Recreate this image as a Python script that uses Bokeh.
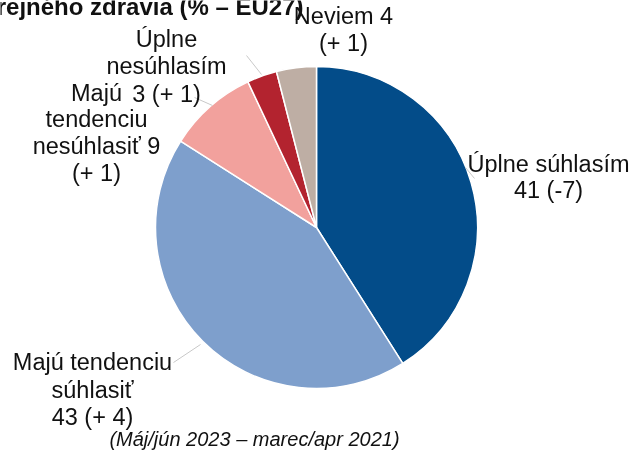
import numpy as np
from bokeh.plotting import figure
from bokeh.models import Range1d, ColumnDataSource
from bokeh.core.properties import value
from bokeh.embed import file_html
from bokeh.resources import INLINE

# ---- data ----
categories = ["Úplne súhlasím", "Majú tendenciu súhlasiť", "Majú tendenciu nesúhlasiť",
              "Úplne nesúhlasím", "Neviem"]
shares = [41, 43, 9, 3, 4]
changes = ["-7", "+ 4", "+ 1", "+ 1", "+ 1"]
colors = ["#034C89", "#7E9FCC", "#F2A19D", "#B3232F", "#BEAEA4"]

title_text = "verejného zdravia (% – EU27)"
footnote = "(Máj/jún 2023 – marec/apr 2021)"

label_lines = [
    ["Úplne súhlasím", "41 (-7)"],
    ["Majú tendenciu", "súhlasiť", "43 (+ 4)"],
    ["Majú", "tendenciu", "nesúhlasiť 9", "(+ 1)"],
    ["Úplne", "nesúhlasím", "3 (+ 1)"],
    ["Neviem 4", "(+ 1)"],
]

# ---- layout (window pixel coordinates) ----
W, H = 634, 452
CX, CY, R = 316, 227, 161
SHIFT = -7  # text baseline correction
label_pos = [  # (center x, [baselines])
    (548, [170, 196]),
    (92, [368, 396, 423]),
    (96, [99, 125, 152, 179]),
    (166, [45, 72, 100]),
    (343, [22, 49]),
]
leaders = [
    ((465, 167), (474, 178)),
    ((173, 362), (200, 344)),
    ((194, 97), (212, 105)),
    ((246, 55), (261, 74)),
]

def Y(y):
    return H - y

p = figure(width=W, height=H, x_range=Range1d(0, W), y_range=Range1d(0, H),
           output_backend="svg", toolbar_location=None, min_border=0,
           styles={"position": "fixed", "top": "0px", "left": "0px"})
p.axis.visible = False
p.grid.visible = False
p.outline_line_color = None
p.background_fill_color = "white"
p.border_fill_color = "white"

vals = np.array(shares, dtype=float)
cum = np.cumsum(vals)
total = cum[-1]
start = np.pi / 2 - 2 * np.pi * (cum - vals) / total
end = np.pi / 2 - 2 * np.pi * cum / total
src = ColumnDataSource(dict(start=start, end=end, color=colors, cat=categories))
p.wedge(x=CX, y=Y(CY), radius=R, start_angle="start", end_angle="end",
        direction="clock", fill_color="color", line_color="white", line_width=1.5,
        source=src)

for (a, b) in leaders:
    p.line([a[0], b[0]], [Y(a[1]), Y(b[1])], line_color="#C9C9C9", line_width=1)

xs, ys, ts = [], [], []
for (cx, bls), lines in zip(label_pos, label_lines):
    for bl, t in zip(bls, lines):
        xs.append(cx); ys.append(Y(bl + SHIFT)); ts.append(t)
p.text(x=xs, y=ys, text=ts, text_font=value("Liberation Sans"),
       text_font_size="23.5px", text_align="center", text_baseline="alphabetic",
       text_color="#111111")

p.text(x=[303], y=[Y(13 + SHIFT)], text=[title_text], text_font=value("Liberation Sans"),
       text_font_size="24px", text_font_style="bold", text_align="right",
       text_baseline="alphabetic", text_color="#111111")

p.text(x=[254], y=[Y(445 + SHIFT)], text=[footnote], text_font=value("Liberation Sans"),
       text_font_size="20px", text_font_style="italic", text_align="center",
       text_baseline="alphabetic", text_color="#111111")

open("out.html", "w").write(file_html(p, INLINE))
